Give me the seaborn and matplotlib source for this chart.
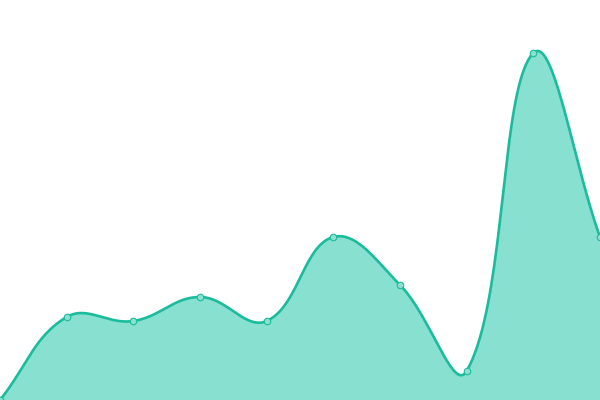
import numpy as np
import pandas as pd
import seaborn as sns
import matplotlib
matplotlib.use('Agg')
import matplotlib.pyplot as plt

# data
labels = list(range(10))
values = [0, 83, 79, 103, 79, 163, 115, 29, 347, 163]

line_color = '#1abc9c'
fill_color = '#88e0d0'

# x positions spread over the full width (data units == pixels)
xs = np.linspace(0, 600, len(values))
ys = np.array(values, dtype=float)


def spline_path(x, y, tension=0.4, steps=40):
    # cardinal-style bezier like the chart library uses
    n = len(x)
    cp_prev = np.zeros((n, 2))
    cp_next = np.zeros((n, 2))
    pts = np.column_stack([x, y])
    for i in range(n):
        p0 = pts[max(i - 1, 0)]
        p1 = pts[i]
        p2 = pts[min(i + 1, n - 1)]
        d01 = np.hypot(*(p1 - p0))
        d12 = np.hypot(*(p2 - p1))
        tot = d01 + d12
        s01 = d01 / tot if tot else 0
        s12 = d12 / tot if tot else 0
        cp_prev[i] = p1 - tension * s01 * (p2 - p0)
        cp_next[i] = p1 + tension * s12 * (p2 - p0)
    out = []
    t = np.linspace(0, 1, steps)[:, None]
    for i in range(n - 1):
        a, b, c, d = pts[i], cp_next[i], cp_prev[i + 1], pts[i + 1]
        seg = ((1 - t) ** 3) * a + 3 * ((1 - t) ** 2) * t * b + 3 * (1 - t) * t ** 2 * c + t ** 3 * d
        out.append(seg if i == 0 else seg[1:])
    out = np.vstack(out)
    return out[:, 0], out[:, 1]


sx, sy = spline_path(xs, ys)
curve = pd.DataFrame({'x': sx, 'y': sy})
pts = pd.DataFrame({'x': xs, 'y': ys})

fig = plt.figure(figsize=(6, 4), dpi=100)
ax = fig.add_axes([0, 0, 1, 1])

ax.fill_between(sx, 0, sy, color=fill_color, linewidth=0)
sns.lineplot(data=curve, x='x', y='y', ax=ax, color=line_color, linewidth=1.9, sort=False)
sns.scatterplot(data=pts, x='x', y='y', ax=ax, s=22, color='#8be0cf',
                edgecolor=line_color, linewidth=0.8, zorder=5, clip_on=False)

ax.set_xlim(0, 600)
ax.set_ylim(0, 400)
ax.axis('off')

fig.savefig('out.png', dpi=100)
